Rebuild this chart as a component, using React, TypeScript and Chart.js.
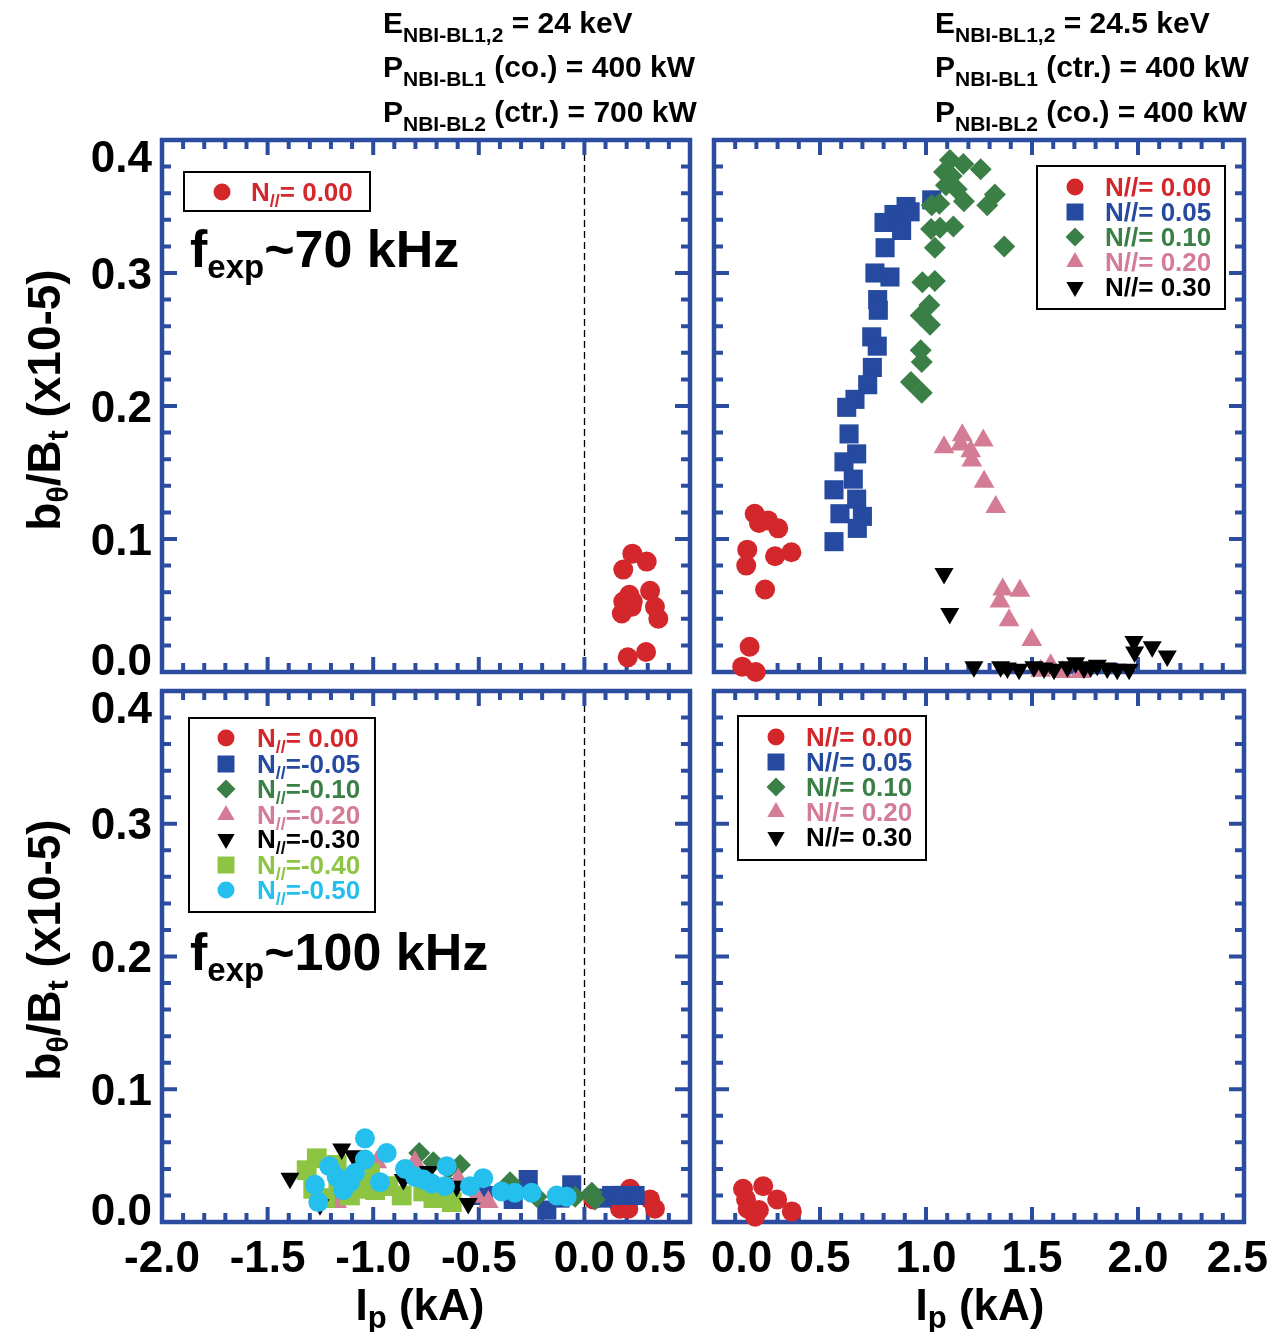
import React, { useEffect, useRef } from 'react';
import { Chart, registerables } from 'chart.js';

Chart.register(...registerables);

type Pt = [number, number];

// ---------------- data (Ip in kA, b_theta/B_t in 1e-5) ----------------
// top-left: f ~ 70 kHz, left beam setting
const tlN000: Pt[] = [
  [0.227, 0.089], [0.295, 0.083], [0.184, 0.077], [0.311, 0.061], [0.213, 0.058],
  [0.184, 0.053], [0.229, 0.053], [0.224, 0.049], [0.334, 0.049], [0.177, 0.044],
  [0.35, 0.04], [0.205, 0.011], [0.292, 0.015],
];

// top-right: f ~ 70 kHz, right beam setting
const trN000: Pt[] = [
  [0.192, 0.119], [0.212, 0.112], [0.255, 0.114], [0.303, 0.108], [0.157, 0.092],
  [0.152, 0.08], [0.288, 0.087], [0.365, 0.09], [0.241, 0.062], [0.168, 0.019],
  [0.133, 0.004], [0.197, 0.0],
];
const trN005: Pt[] = [
  [1.027, 0.355], [0.906, 0.35], [0.925, 0.346], [0.849, 0.344], [0.802, 0.338],
  [0.885, 0.332], [0.807, 0.319], [0.759, 0.3], [0.83, 0.297], [0.772, 0.28],
  [0.775, 0.272], [0.744, 0.252], [0.77, 0.245], [0.747, 0.229], [0.725, 0.216],
  [0.665, 0.205], [0.626, 0.199], [0.637, 0.179], [0.673, 0.164], [0.613, 0.158],
  [0.657, 0.145], [0.566, 0.137], [0.673, 0.13], [0.594, 0.119], [0.7, 0.117],
  [0.676, 0.108], [0.566, 0.098],
];
const trN010: Pt[] = [
  [1.113, 0.385], [1.176, 0.382], [1.258, 0.378], [1.085, 0.376], [1.121, 0.373],
  [1.094, 0.366], [1.145, 0.363], [1.325, 0.359], [1.027, 0.351], [1.063, 0.352],
  [1.179, 0.354], [1.289, 0.351], [1.024, 0.333], [1.066, 0.334], [1.129, 0.335],
  [1.042, 0.319], [1.369, 0.32], [0.983, 0.293], [1.042, 0.294], [1.016, 0.276],
  [0.975, 0.268], [1.019, 0.261], [0.975, 0.242], [0.98, 0.233], [0.929, 0.218],
  [0.98, 0.21],
];
const trN020: Pt[] = [
  [1.085, 0.169], [1.171, 0.178], [1.164, 0.171], [1.27, 0.174], [1.211, 0.166],
  [1.216, 0.159], [1.274, 0.143], [1.329, 0.124], [1.362, 0.062], [1.443, 0.061],
  [1.349, 0.053], [1.392, 0.039], [1.499, 0.024], [1.588, 0.005], [1.541, 0.001],
  [1.643, 0.0], [1.73, 0.0],
];
const trN030: Pt[] = [
  [1.085, 0.074], [1.112, 0.044], [1.226, 0.004], [1.352, 0.004], [1.384, 0.003],
  [1.439, 0.002], [1.509, 0.004], [1.557, 0.003], [1.604, 0.002], [1.667, 0.004],
  [1.706, 0.007], [1.745, 0.003], [1.777, 0.004], [1.808, 0.005], [1.855, 0.003],
  [1.902, 0.002], [1.958, 0.002], [1.981, 0.023], [1.984, 0.015], [2.067, 0.019],
  [2.138, 0.012],
];

// bottom-left: f ~ 100 kHz, left beam setting
const blN000: Pt[] = [
  [0.042, 0.017], [0.145, 0.017], [0.216, 0.025], [0.169, 0.01], [0.208, 0.01],
  [0.311, 0.017], [0.334, 0.01],
];
const blNm005: Pt[] = [
  [-0.479, 0.02], [-0.337, 0.017], [-0.266, 0.032], [-0.178, 0.009], [-0.116, 0.018],
  [-0.06, 0.028], [0.082, 0.018], [0.129, 0.02], [0.184, 0.02], [0.24, 0.02],
];
const blNm010: Pt[] = [
  [-0.782, 0.052], [-0.715, 0.045], [-0.644, 0.04], [-0.589, 0.043], [-0.352, 0.03],
  [-0.226, 0.019], [-0.044, 0.019], [0.035, 0.022], [0.05, 0.017],
];
const blNm020: Pt[] = [
  [-0.983, 0.045], [-0.802, 0.045], [-1.173, 0.015], [-0.597, 0.032], [-0.51, 0.019],
  [-0.455, 0.015],
];
const blNm030: Pt[] = [
  [-1.394, 0.033], [-1.149, 0.055], [-1.094, 0.05], [-0.857, 0.032], [-0.739, 0.038],
  [-0.668, 0.029], [-0.605, 0.027], [-0.55, 0.014], [-1.252, 0.013],
];
const blNm040: Pt[] = [
  [-1.267, 0.048], [-1.315, 0.039], [-1.173, 0.043], [-1.284, 0.025], [-1.228, 0.018],
  [-1.11, 0.02], [-1.047, 0.025], [-0.991, 0.024], [-0.929, 0.027], [-0.865, 0.02],
  [-1.015, 0.037], [-0.763, 0.023], [-0.715, 0.018], [-0.628, 0.015], [-1.165, 0.029],
];
const blNm050: Pt[] = [
  [-1.039, 0.063], [-0.936, 0.052], [-1.039, 0.047], [-1.208, 0.042], [-0.652, 0.042],
  [-0.849, 0.04], [-1.086, 0.037], [-1.173, 0.034], [-0.802, 0.034], [-0.763, 0.032],
  [-0.723, 0.029], [-0.66, 0.027], [-0.968, 0.03], [-1.11, 0.03], [-1.276, 0.028],
  [-1.142, 0.024], [-1.26, 0.015], [-0.542, 0.027], [-0.479, 0.033], [-0.392, 0.023],
  [-0.329, 0.022], [-0.25, 0.022], [-0.131, 0.02], [-0.084, 0.019],
];

// bottom-right: f ~ 100 kHz, right beam setting
const brN000: Pt[] = [
  [0.137, 0.025], [0.232, 0.027], [0.298, 0.017], [0.367, 0.008], [0.159, 0.01],
  [0.212, 0.009], [0.194, 0.004], [0.151, 0.017],
];

// ---------------- ticks / labels ----------------
const yTickValues = [0, 0.1, 0.2, 0.3, 0.4];
const yTickLabels = ['0.0', '0.1', '0.2', '0.3', '0.4'];
const xTickValuesLeft = [-2, -1.5, -1, -0.5, 0, 0.5];
const xTickLabelsLeft = ['-2.0', '-1.5', '-1.0', '-0.5', '0.0', '0.5'];
const xTickValuesRight = [0, 0.5, 1, 1.5, 2, 2.5];
const xTickLabelsRight = ['0.0', '0.5', '1.0', '1.5', '2.0', '2.5'];

const legendValuesLeftTop = ['= 0.00'];
const legendValuesLeftBottom = ['= 0.00', '=-0.05', '=-0.10', '=-0.20', '=-0.30', '=-0.40', '=-0.50'];
const legendLabelsRight = ['N//= 0.00', 'N//= 0.05', 'N//= 0.10', 'N//= 0.20', 'N//= 0.30'];

const headerLeft = [
  ['E', 'NBI-BL1,2', ' = 24 keV'],
  ['P', 'NBI-BL1', ' (co.) = 400 kW'],
  ['P', 'NBI-BL2', ' (ctr.) = 700 kW'],
];
const headerRight = [
  ['E', 'NBI-BL1,2', ' = 24.5 keV'],
  ['P', 'NBI-BL1', ' (ctr.) = 400 kW'],
  ['P', 'NBI-BL2', ' (co.) = 400 kW'],
];

// ---------------- styling ----------------
const W = 1276;
const H = 1332;
const FONT = '"Liberation Sans", Arial, Helvetica, sans-serif';
const AXIS_BLUE = '#2b4c9f';

type Shape = 'circle' | 'rect' | 'rectRot' | 'triangle';
interface MarkStyle { color: string; shape: Shape; radius: number; rotation: number; order: number; legendR: number }

const S_RED: MarkStyle = { color: '#d3272c', shape: 'circle', radius: 10, rotation: 0, order: 6, legendR: 8.5 };
const S_BLUE: MarkStyle = { color: '#254a9f', shape: 'rect', radius: 13.5, rotation: 0, order: 5, legendR: 12 };
const S_GREEN: MarkStyle = { color: '#3a7f46', shape: 'rectRot', radius: 11, rotation: 0, order: 4, legendR: 9.5 };
const S_PINK: MarkStyle = { color: '#d47c96', shape: 'triangle', radius: 12, rotation: 0, order: 3, legendR: 10 };
const S_BLACK: MarkStyle = { color: '#000000', shape: 'triangle', radius: 11, rotation: 180, order: 1, legendR: 10 };
const S_LIME: MarkStyle = { color: '#8dc543', shape: 'rect', radius: 14, rotation: 0, order: 2, legendR: 12 };
const S_CYAN: MarkStyle = { color: '#25bfee', shape: 'circle', radius: 10, rotation: 0, order: 0, legendR: 8.5 };

interface Run { t: string; s: number; dy?: number; c?: string }

function runsWidth(ctx: CanvasRenderingContext2D, runs: Run[]) {
  let w = 0;
  for (const r of runs) {
    ctx.font = `bold ${r.s}px ${FONT}`;
    w += ctx.measureText(r.t).width;
  }
  return w;
}

function drawRuns(ctx: CanvasRenderingContext2D, runs: Run[], x: number, y: number, align: 'left' | 'center' | 'right' = 'left') {
  const w = runsWidth(ctx, runs);
  let cx = align === 'left' ? x : align === 'center' ? x - w / 2 : x - w;
  ctx.textAlign = 'left';
  ctx.textBaseline = 'alphabetic';
  for (const r of runs) {
    ctx.font = `bold ${r.s}px ${FONT}`;
    ctx.fillStyle = r.c || '#000';
    ctx.fillText(r.t, cx, y + (r.dy || 0));
    cx += ctx.measureText(r.t).width;
  }
}

function drawMarker(ctx: CanvasRenderingContext2D, st: MarkStyle, x: number, y: number, r: number) {
  ctx.fillStyle = st.color;
  ctx.beginPath();
  if (st.shape === 'circle') {
    ctx.arc(x, y, r, 0, Math.PI * 2);
  } else if (st.shape === 'rect') {
    const s = r * Math.SQRT1_2;
    ctx.rect(x - s, y - s, 2 * s, 2 * s);
  } else if (st.shape === 'rectRot') {
    ctx.moveTo(x, y - r);
    ctx.lineTo(x + r, y);
    ctx.lineTo(x, y + r);
    ctx.lineTo(x - r, y);
    ctx.closePath();
  } else {
    let a = (st.rotation * Math.PI) / 180;
    ctx.moveTo(x + Math.sin(a) * r, y - Math.cos(a) * r);
    a += (2 * Math.PI) / 3;
    ctx.lineTo(x + Math.sin(a) * r, y - Math.cos(a) * r);
    a += (2 * Math.PI) / 3;
    ctx.lineTo(x + Math.sin(a) * r, y - Math.cos(a) * r);
    ctx.closePath();
  }
  ctx.fill();
}

function header(ctx: CanvasRenderingContext2D, lines: string[][], x: number) {
  const baselines = [33, 77, 122];
  lines.forEach((ln, i) => {
    drawRuns(ctx, [
      { t: ln[0], s: 30 },
      { t: ln[1], s: 21, dy: 9 },
      { t: ln[2], s: 30 },
    ], x, baselines[i]);
  });
}

function yTitle(ctx: CanvasRenderingContext2D, cy: number) {
  ctx.save();
  ctx.translate(60, cy);
  ctx.rotate(-Math.PI / 2);
  drawRuns(ctx, [
    { t: 'b', s: 46 },
    { t: 'θ', s: 30, dy: 8 },
    { t: '/B', s: 46 },
    { t: 't', s: 30, dy: 8 },
    { t: ' (x10-5)', s: 46 },
  ], 0, 0, 'center');
  ctx.restore();
}

function xTitle(ctx: CanvasRenderingContext2D, cx: number) {
  drawRuns(ctx, [
    { t: 'I', s: 44 },
    { t: 'p', s: 31, dy: 8 },
    { t: ' (kA)', s: 44 },
  ], cx, 1320, 'center');
}

function fexp(ctx: CanvasRenderingContext2D, rest: string, baseline: number) {
  drawRuns(ctx, [
    { t: 'f', s: 52 },
    { t: 'exp', s: 33, dy: 11 },
    { t: rest, s: 52 },
  ], 190, baseline);
}

interface LegendEntry { style: MarkStyle; runs: Run[] }
interface LegendCfg { box: [number, number, number, number]; markerX: number; textX: number; rows: number[]; entries: LegendEntry[] }

interface Area { left: number; top: number; right: number; bottom: number }
interface SeriesCfg { data: Pt[]; style: MarkStyle }
interface PanelCfg {
  id: string;
  area: Area;
  xMin: number;
  xMax: number;
  series: SeriesCfg[];
  dashedZero: boolean;
  yLabels: boolean;
  xLabels: null | { values: number[]; labels: string[]; minX: number; maxX: number };
  legend: LegendCfg;
  extras: (ctx: CanvasRenderingContext2D) => void;
}

function leftLegendRuns(style: MarkStyle, v: string): Run[] {
  return [
    { t: 'N', s: 26, c: style.color },
    { t: '//', s: 18, dy: 6, c: style.color },
    { t: v, s: 26, c: style.color },
  ];
}

function framePlugin(cfg: PanelCfg) {
  return {
    id: 'frame_' + cfg.id,
    beforeDatasetsDraw(chart: any) {
      const ctx: CanvasRenderingContext2D = chart.ctx;
      const a = chart.chartArea;
      const xs = chart.scales.x;
      const ys = chart.scales.y;
      ctx.save();
      // dashed zero line
      if (cfg.dashedZero) {
        const px = Math.round(xs.getPixelForValue(0)) + 0.5;
        ctx.strokeStyle = '#000';
        ctx.lineWidth = 1.3;
        ctx.setLineDash([7, 4]);
        ctx.beginPath();
        ctx.moveTo(px, a.top + 14);
        ctx.lineTo(px, a.bottom - 2);
        ctx.stroke();
        ctx.setLineDash([]);
      }
      // ticks (inward, on all four sides)
      ctx.strokeStyle = AXIS_BLUE;
      ctx.lineWidth = 4;
      ctx.beginPath();
      const nx = Math.round((cfg.xMax - cfg.xMin) / 0.1);
      for (let i = 0; i <= nx; i++) {
        const v = cfg.xMin + i * 0.1;
        const major = i % 5 === 0;
        const len = major ? 15 : 9;
        const px = xs.getPixelForValue(v);
        ctx.moveTo(px, a.top);
        ctx.lineTo(px, a.top + len);
        ctx.moveTo(px, a.bottom);
        ctx.lineTo(px, a.bottom - len);
      }
      for (let i = 0; i <= 20; i++) {
        const v = i * 0.02;
        const major = i % 5 === 0;
        const len = major ? 15 : 9;
        const py = ys.getPixelForValue(v);
        ctx.moveTo(a.left, py);
        ctx.lineTo(a.left + len, py);
        ctx.moveTo(a.right, py);
        ctx.lineTo(a.right - len, py);
      }
      ctx.stroke();
      // frame
      ctx.lineWidth = 4.5;
      ctx.strokeRect(a.left, a.top, a.right - a.left, a.bottom - a.top);
      ctx.restore();
    },
    afterDatasetsDraw(chart: any) {
      const ctx: CanvasRenderingContext2D = chart.ctx;
      const a = chart.chartArea;
      const xs = chart.scales.x;
      const ys = chart.scales.y;
      ctx.save();
      // tick labels
      ctx.font = `bold 44px ${FONT}`;
      ctx.fillStyle = '#000';
      ctx.textBaseline = 'alphabetic';
      if (cfg.yLabels) {
        ctx.textAlign = 'right';
        yTickValues.forEach((v, i) => {
          let cy = ys.getPixelForValue(v);
          cy = Math.max(a.top + 16, Math.min(a.bottom - 13, cy));
          ctx.fillText(yTickLabels[i], 152, cy + 15.7);
        });
      }
      if (cfg.xLabels) {
        const xl = cfg.xLabels;
        ctx.textAlign = 'left';
        xl.values.forEach((v, i) => {
          const t = xl.labels[i];
          const w = ctx.measureText(t).width;
          let left = xs.getPixelForValue(v) - w / 2;
          left = Math.max(xl.minX, Math.min(xl.maxX - w, left));
          ctx.fillText(t, left, 1272);
        });
      }
      // legend
      const lg = cfg.legend;
      const [x1, y1, x2, y2] = lg.box;
      ctx.fillStyle = '#fff';
      ctx.fillRect(x1, y1, x2 - x1, y2 - y1);
      ctx.strokeStyle = '#000';
      ctx.lineWidth = 2;
      ctx.strokeRect(x1, y1, x2 - x1, y2 - y1);
      lg.entries.forEach((e, i) => {
        const ry = lg.rows[i];
        drawMarker(ctx, e.style, lg.markerX, ry, e.style.legendR);
        drawRuns(ctx, e.runs, lg.textX, ry + 9);
      });
      cfg.extras(ctx);
      ctx.restore();
    },
  };
}

const toXY = (d: Pt[]) => d.map(([x, y]) => ({ x, y }));

function Panel({ cfg }: { cfg: PanelCfg }) {
  const ref = useRef<HTMLCanvasElement>(null);
  useEffect(() => {
    const A = cfg.area;
    const chart = new Chart(ref.current as HTMLCanvasElement, {
      type: 'scatter',
      data: {
        datasets: cfg.series.map((s) => ({
          data: toXY(s.data),
          pointStyle: s.style.shape,
          pointRotation: s.style.rotation,
          pointRadius: s.style.radius,
          pointHoverRadius: s.style.radius,
          backgroundColor: s.style.color,
          pointBackgroundColor: s.style.color,
          borderColor: s.style.color,
          pointBorderWidth: 0,
          borderWidth: 0,
          clip: false,
          order: s.style.order,
        })) as any,
      },
      options: {
        animation: false,
        responsive: false,
        events: [],
        layout: { padding: { left: A.left, top: A.top, right: W - A.right, bottom: H - A.bottom } },
        scales: {
          x: { type: 'linear', min: cfg.xMin, max: cfg.xMax, display: false },
          y: { type: 'linear', min: 0, max: 0.4, display: false },
        },
        plugins: { legend: { display: false }, tooltip: { enabled: false }, title: { display: false } },
      } as any,
      plugins: [framePlugin(cfg) as any],
    });
    return () => chart.destroy();
  }, []);
  return (
    <canvas
      ref={ref}
      width={W}
      height={H}
      style={{ position: 'absolute', left: 0, top: 0, width: W, height: H }}
    />
  );
}

const TOP_L: Area = { left: 162, top: 140, right: 690, bottom: 672 };
const TOP_R: Area = { left: 714, top: 140, right: 1244, bottom: 672 };
const BOT_L: Area = { left: 162, top: 691, right: 690, bottom: 1222 };
const BOT_R: Area = { left: 714, top: 691, right: 1244, bottom: 1222 };

const rightStyles = [S_RED, S_BLUE, S_GREEN, S_PINK, S_BLACK];
const leftBottomStyles = [S_RED, S_BLUE, S_GREEN, S_PINK, S_BLACK, S_LIME, S_CYAN];

const panels: PanelCfg[] = [
  {
    id: 'tl',
    area: TOP_L,
    xMin: -2,
    xMax: 0.5,
    series: [{ data: tlN000, style: S_RED }],
    dashedZero: true,
    yLabels: true,
    xLabels: null,
    legend: {
      box: [184, 172, 370, 211],
      markerX: 222,
      textX: 251,
      rows: [192],
      entries: [{ style: S_RED, runs: leftLegendRuns(S_RED, legendValuesLeftTop[0]) }],
    },
    extras: (ctx) => {
      header(ctx, headerLeft, 383);
      fexp(ctx, '~70 kHz', 267);
      yTitle(ctx, 400);
    },
  },
  {
    id: 'tr',
    area: TOP_R,
    xMin: 0,
    xMax: 2.5,
    series: [
      { data: trN000, style: S_RED },
      { data: trN005, style: S_BLUE },
      { data: trN010, style: S_GREEN },
      { data: trN020, style: S_PINK },
      { data: trN030, style: S_BLACK },
    ],
    dashedZero: false,
    yLabels: false,
    xLabels: null,
    legend: {
      box: [1037, 166, 1225, 309],
      markerX: 1075,
      textX: 1105,
      rows: [187, 212, 237, 262, 287],
      entries: rightStyles.map((st, i) => ({ style: st, runs: [{ t: legendLabelsRight[i], s: 26, c: st.color }] })),
    },
    extras: (ctx) => {
      header(ctx, headerRight, 935);
    },
  },
  {
    id: 'bl',
    area: BOT_L,
    xMin: -2,
    xMax: 0.5,
    series: [
      { data: blN000, style: S_RED },
      { data: blNm005, style: S_BLUE },
      { data: blNm010, style: S_GREEN },
      { data: blNm020, style: S_PINK },
      { data: blNm030, style: S_BLACK },
      { data: blNm040, style: S_LIME },
      { data: blNm050, style: S_CYAN },
    ],
    dashedZero: true,
    yLabels: true,
    xLabels: { values: xTickValuesLeft, labels: xTickLabelsLeft, minX: -1000, maxX: 686 },
    legend: {
      box: [189, 718, 375, 912],
      markerX: 226,
      textX: 257,
      rows: [738, 764, 789, 815, 839, 865, 890],
      entries: leftBottomStyles.map((st, i) => ({ style: st, runs: leftLegendRuns(st, legendValuesLeftBottom[i]) })),
    },
    extras: (ctx) => {
      fexp(ctx, '~100 kHz', 970);
      yTitle(ctx, 950);
      xTitle(ctx, 420);
    },
  },
  {
    id: 'br',
    area: BOT_R,
    xMin: 0,
    xMax: 2.5,
    series: [{ data: brN000, style: S_RED }],
    dashedZero: false,
    yLabels: false,
    xLabels: { values: xTickValuesRight, labels: xTickLabelsRight, minX: 711, maxX: 1268 },
    legend: {
      box: [738, 716, 926, 860],
      markerX: 776,
      textX: 806,
      rows: [737, 762, 787, 812, 837],
      entries: rightStyles.map((st, i) => ({ style: st, runs: [{ t: legendLabelsRight[i], s: 26, c: st.color }] })),
    },
    extras: (ctx) => {
      xTitle(ctx, 980);
    },
  },
];

export default function App() {
  return (
    <div style={{ position: 'absolute', left: 0, top: 0, width: W, height: H, background: '#fff', overflow: 'hidden' }}>
      {panels.map((p) => (
        <Panel key={p.id} cfg={p} />
      ))}
    </div>
  );
}
